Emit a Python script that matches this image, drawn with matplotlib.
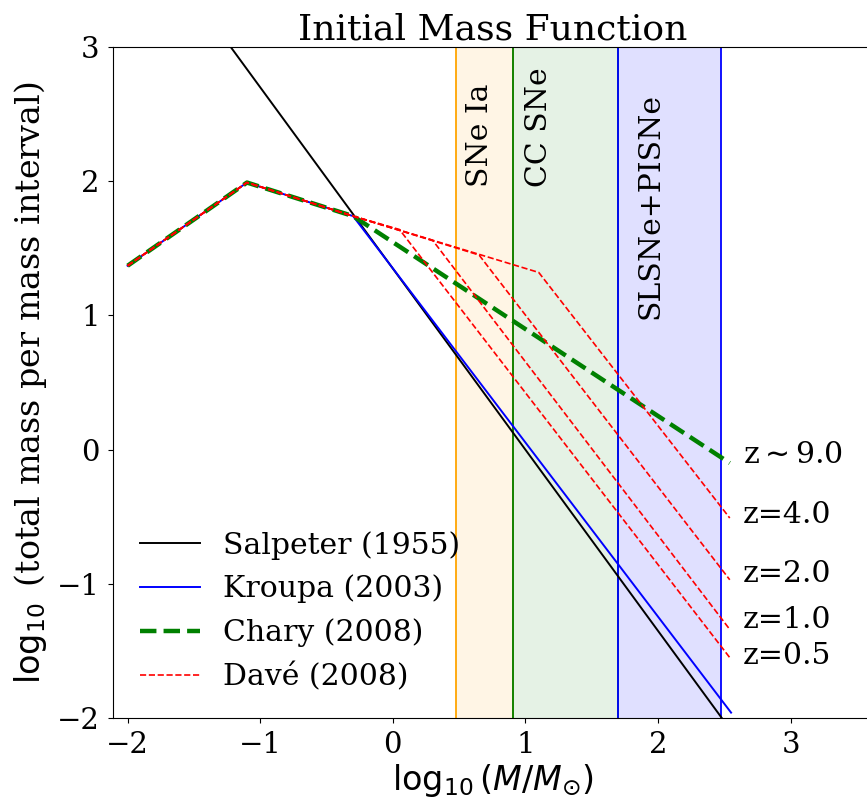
import matplotlib
matplotlib.use("Agg")
import matplotlib.pyplot as plt

# vertices (log10 M, log10 mass per interval)
salp_x = [-2.0, 2.48]
salp_y = [4.05, -2.0]

low_x = [-2.0, -1.1, -0.3]
low_y = [1.37, 1.99, 1.74]

kroupa_x = low_x + [2.55]
kroupa_y = low_y + [-1.96]

chary_x = low_x + [2.54]
chary_y = low_y + [-0.10]

dave_bx = [0.05, 0.30, 0.65, 1.10]       # break masses z=0.5,1,2,4
dave_by = [1.64, 1.56, 1.45, 1.32]
dave_end_y = [-1.55, -1.34, -0.97, -0.51]
dave_end_x = 2.54

z_labels = ["z=0.5", "z=1.0", "z=2.0", "z=4.0", r"z$\sim$9.0"]
z_label_y = [-1.54, -1.27, -0.93, -0.49, -0.04]

bands = [(0.477, 0.903, "orange"),
         (0.903, 1.699, "green"),
         (1.699, 2.477, "blue")]
band_alpha = [0.1, 0.1, 0.12]
band_names = ["SNe Ia", "CC SNe", "SLSNe+PISNe"]
band_text_x = [0.655, 1.10, 1.94]
band_text_y = [1.96, 1.96, 0.97]

plt.rcParams['font.family'] = 'DejaVu Serif'
plt.rcParams['mathtext.fontset'] = 'dejavusans'

fig = plt.figure(figsize=(8.67, 8.02), dpi=100)
# axes runs slightly past the right edge (reference is cropped there)
ax = fig.add_axes([113/867, 1-718/802, 760/867, 671/802])

for (a, b, c), al in zip(bands, band_alpha):
    ax.axvspan(a, b, color=c, alpha=al, lw=0)
    ax.axvline(a, color=c, lw=1.3)
    ax.axvline(b, color=c, lw=1.3)

ax.plot(salp_x, salp_y, color='black', lw=1.4, label='Salpeter (1955)')
ax.plot(kroupa_x, kroupa_y, color='blue', lw=1.4, label='Kroupa (2003)')
ax.plot(chary_x, chary_y, color='green', lw=3.2, ls='--', label='Chary (2008)')
for i in range(len(dave_bx)):
    xs = low_x + [dave_bx[i], dave_end_x]
    ys = low_y + [dave_by[i], dave_end_y[i]]
    ax.plot(xs, ys, color='red', lw=1.2, ls='--',
            label='Davé (2008)' if i == 0 else None)

# band labels
for name, tx, ty in zip(band_names, band_text_x, band_text_y):
    ax.text(tx, ty, name, rotation=90, ha='center', va='bottom', fontsize=21.5)

for lab, yy in zip(z_labels, z_label_y):
    ax.text(2.64, yy, lab, ha='left', va='center', fontsize=21.5)

ax.set_xlim(-2.11, 3.62)
ax.set_ylim(-2, 3)
ax.set_xticks([-2, -1, 0, 1, 2, 3])
ax.set_yticks([-2, -1, 0, 1, 2, 3])
ax.tick_params(labelsize=21, pad=6)
ax.set_title("Initial Mass Function", fontsize=26, pad=4)
ax.set_xlabel(r"$\log_{10}(M/M_{\odot})$", fontsize=24, labelpad=2)
ax.set_ylabel(r"$\log_{10}$ (total mass per mass interval)", fontsize=24,
              labelpad=6)
ax.legend(loc='lower left', fontsize=21.5, frameon=False)

fig.savefig("out.png", dpi=100)
